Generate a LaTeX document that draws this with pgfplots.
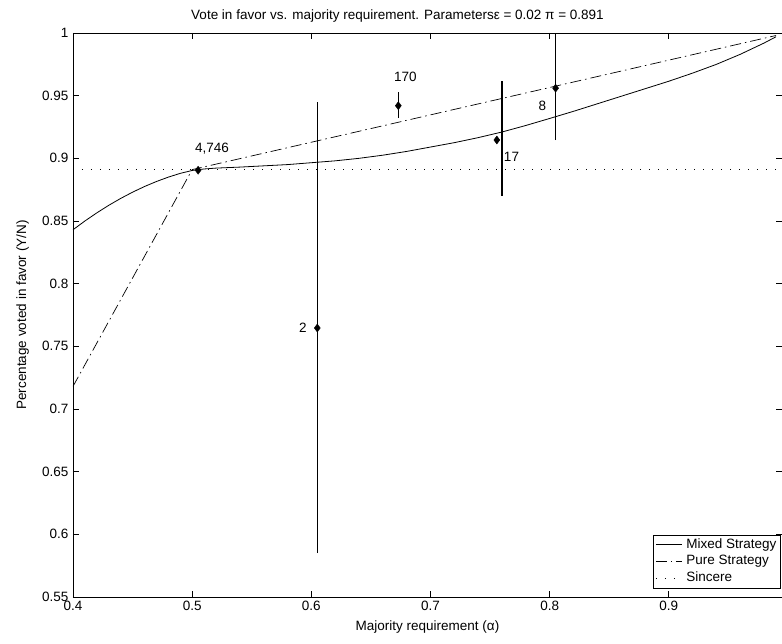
\documentclass[border=0pt]{standalone}
\usepackage{pgfplots}
\pgfplotsset{compat=1.18}
\usepackage{fontspec}
\setmainfont{Liberation Sans}
\begin{document}
\fontsize{13.5}{16}\selectfont
\begin{tikzpicture}
\useasboundingbox (-73pt,-47pt) rectangle (709pt,597pt);
\begin{axis}[
  at={(0,0)}, anchor=south west,
  scale only axis, width=709pt, height=564pt,
  xmin=0.4, xmax=0.995, ymin=0.55, ymax=1,
  xtick={0.4,0.5,0.6,0.7,0.8,0.9},
  ytick={0.55,0.6,0.65,0.7,0.75,0.8,0.85,0.9,0.95,1},
  xticklabels={0.4,0.5,0.6,0.7,0.8,0.9},
  yticklabels={0.55,0.6,0.65,0.7,0.75,0.8,0.85,0.9,0.95,1},
  tick align=inside, major tick length=6pt,
  tick style={black, line width=0.6pt},
  axis line style={line width=0.9pt},
  ticklabel style={font=\fontsize{13.5}{16}\selectfont},
  xticklabel style={yshift=1pt},
  label style={font=\fontsize{13.5}{16}\selectfont},
  title style={font=\fontsize{13.5}{16}\selectfont, xshift=-30pt, yshift=0pt},
  title={Vote in favor vs. majority requirement. Parametersε = 0.02 π = 0.891},
  xlabel={Majority requirement (α)},
  ylabel={Percentage voted in favor (Y/N)},
  xlabel style={yshift=-1pt},
  ylabel style={yshift=4pt},
  legend style={at={(rel axis cs:0.998,0.016)}, anchor=south east, draw=black,
    font=\fontsize{13.5}{15}\selectfont, inner sep=2pt, row sep=1pt,
    column sep=2pt, legend cell align=left},
  legend image code/.code={\draw[#1] (0pt,0pt) -- (26pt,0pt);},
  clip=true,
]
\addplot[black, line width=0.8pt] coordinates {
(0.40,0.843) (0.41,0.850) (0.42,0.8565) (0.43,0.8625) (0.44,0.868) (0.45,0.873)
(0.46,0.8775) (0.47,0.8815) (0.48,0.885) (0.49,0.888) (0.50,0.8903) (0.51,0.8915)
(0.52,0.8922) (0.54,0.893) (0.56,0.894) (0.58,0.895) (0.60,0.8965) (0.62,0.898)
(0.64,0.900) (0.66,0.9025) (0.68,0.9055) (0.70,0.909) (0.72,0.9125) (0.74,0.9165)
(0.76,0.921) (0.78,0.9262) (0.80,0.9318) (0.82,0.9375) (0.84,0.9435) (0.86,0.9495)
(0.88,0.9555) (0.90,0.9615) (0.92,0.968) (0.94,0.975) (0.96,0.983) (0.98,0.992) (0.99,0.997)
};
\addlegendentry{Mixed Strategy}
\addplot[black, line width=0.7pt, dash pattern=on 11pt off 4pt on 1.5pt off 4pt] coordinates {
(0.40,0.718) (0.50,0.891) (0.99,0.998)
};
\addlegendentry{Pure Strategy}
\addplot[black, line width=0.7pt, dash pattern=on 1pt off 8pt] coordinates {
(0.40,0.891) (0.99,0.891)
};
\addlegendentry{Sincere}
% error bars
\addplot[black, line width=1.5pt, forget plot] coordinates {(0.605,0.585) (0.605,0.945)};
\addplot[black, line width=1.5pt, forget plot] coordinates {(0.673,0.932) (0.673,0.953)};
\addplot[black, line width=1.5pt, forget plot] coordinates {(0.76,0.870) (0.76,0.962)};
\addplot[black, line width=1.5pt, forget plot] coordinates {(0.805,0.9146) (0.805,1.0)};
% points
\addplot[only marks, mark=diamond*, mark size=4pt, black, forget plot] coordinates {
(0.505,0.8905) (0.605,0.7646) (0.673,0.942) (0.7557,0.9146) (0.805,0.956)
};
\node at (axis cs:0.5166,0.908) {4,746};
\node at (axis cs:0.593,0.7646) {2};
\node at (axis cs:0.679,0.965) {170};
\node at (axis cs:0.768,0.901) {17};
\node at (axis cs:0.794,0.942) {8};
\end{axis}
\end{tikzpicture}
\end{document}
